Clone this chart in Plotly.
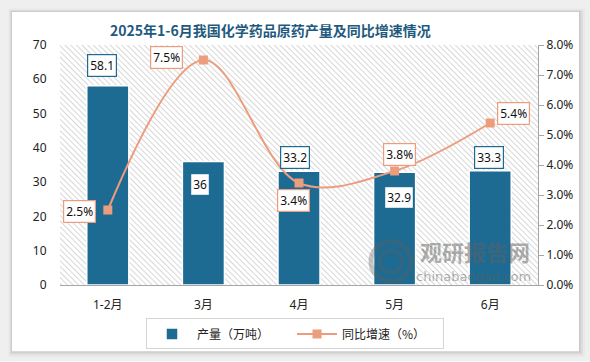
import base64
import plotly.graph_objects as go

# ---------------- data ----------------
categories = ['1-2月', '3月', '4月', '5月', '6月']
output_wt = [58.1, 36, 33.2, 32.9, 33.3]          # 产量（万吨）
growth_pct = [2.5, 7.5, 3.4, 3.8, 5.4]            # 同比增速（%）
left_ticks = [0, 10, 20, 30, 40, 50, 60, 70]
right_ticks = [0, 1, 2, 3, 4, 5, 6, 7, 8]

# label offsets (style, px)
bar_lbl_dx = [-6, -3, -4, 4, -1]
bar_lbl_dy = [20, -23, 14, -25, 13]
line_lbl_dx = [-28, -37, -6, 5, 23]
line_lbl_dy = [-1, 3, -17, 17, 10]

BAR = '#1d6b93'
LINE = '#eb9d7e'
W, H = 590, 362
L, R, T, B = 60, 538, 45, 285.5
PW, PH = R - L, B - T


def px(x):
    return (x - L) / PW


def py(y):
    return (B - y) / PH


fig = go.Figure()
fig.add_trace(go.Bar(
    x=categories, y=output_wt, name='产量（万吨）\u2003\u2002', yaxis='y',
    marker=dict(color=BAR, line=dict(color='white', width=1.5)),
    width=0.44,
))
fig.add_trace(go.Scatter(
    x=categories, y=growth_pct, name='同比增速（%）\u2003', yaxis='y2',
    mode='lines+markers', line=dict(color=LINE, width=2, shape='spline', smoothing=1.0),
    marker=dict(symbol='square', size=9, color=LINE),
))

ann = []
for i, (c, v) in enumerate(zip(categories, output_wt)):
    ann.append(dict(x=c, y=v, xref='x', yref='y', text=f'{v:g}', showarrow=False,
                    xshift=bar_lbl_dx[i], yshift=bar_lbl_dy[i],
                    bgcolor='white', bordercolor=BAR, borderwidth=1.2, borderpad=2,
                    font=dict(family='Noto Sans, Noto Sans CJK SC', size=12, color='#111')))
for i, (c, v) in enumerate(zip(categories, growth_pct)):
    ann.append(dict(x=c, y=v, xref='x', yref='y2', text=f'{v:.1f}%', showarrow=False,
                    xshift=line_lbl_dx[i], yshift=line_lbl_dy[i],
                    bgcolor='white', bordercolor=LINE, borderwidth=1.2, borderpad=2,
                    font=dict(family='Noto Sans, Noto Sans CJK SC', size=12, color='#111')))

# title
ann.append(dict(x=px(270), y=py(29.5), xref='paper', yref='paper', showarrow=False,
                xanchor='center', yanchor='middle',
                text='<b>2025年1-6月我国化学药品原药产量及同比增速情况</b>',
                font=dict(family='Noto Sans CJK SC', size=14, color='#1f5a7e')))
# watermark
WM = 'rgba(95,95,95,0.5)'
ann.append(dict(x=px(475), y=py(251), xref='paper', yref='paper', showarrow=False,
                xanchor='center', yanchor='middle', text='<b>观研报告网</b>',
                font=dict(family='Noto Sans CJK SC', size=22, color=WM)))
ann.append(dict(x=px(473), y=py(277), xref='paper', yref='paper', showarrow=False,
                xanchor='center', yanchor='middle', text='chinabaogao.com',
                font=dict(family='DejaVu Sans', size=13, color=WM)))

shapes = []
# outer grey frame + soft shadow around white card
cx0, cx1, cy0, cy1 = 12, 579, 12, 352
OUT = '#efefef'
for (x0, x1, y0, y1) in [(0, W, 0, cy0), (0, W, cy1, H), (0, cx0, 0, H), (cx1, W, 0, H)]:
    shapes.append(dict(type='rect', xref='paper', yref='paper', layer='below',
                       x0=px(x0), x1=px(x1), y0=py(y1), y1=py(y0),
                       fillcolor=OUT, line=dict(width=0)))
for k, alpha in [(6, 0.025), (4, 0.035), (2.5, 0.045), (1.2, 0.06)]:
    shapes.append(dict(type='rect', xref='paper', yref='paper', layer='below',
                       x0=px(cx0 - k * 0.6), x1=px(cx1 + k), y0=py(cy1 + k), y1=py(cy0 - k * 0.6),
                       fillcolor=f'rgba(0,0,0,{alpha})', line=dict(width=0)))
shapes.append(dict(type='rect', xref='paper', yref='paper', layer='below',
                   x0=px(cx0), x1=px(cx1), y0=py(cy1), y1=py(cy0),
                   fillcolor='white', line=dict(width=0)))
# watermark logo
for r0, wdt in [(20, 5), (11, 4)]:
    shapes.append(dict(type='circle', xref='paper', yref='paper', layer='above',
                       x0=px(391 - r0), x1=px(391 + r0), y0=py(262 + r0), y1=py(262 - r0),
                       line=dict(color='rgba(95,95,95,0.35)', width=wdt)))

# hatch pattern background of the plot area
svg = f'''<svg xmlns="http://www.w3.org/2000/svg" width="{PW}" height="{int(PH)}" viewBox="0 0 {PW} {int(PH)}" preserveAspectRatio="none">
<defs><pattern id="h" width="4" height="4" patternUnits="userSpaceOnUse" patternTransform="rotate(45)">
<line x1="0" y1="0.5" x2="4" y2="0.5" stroke="#d2d2d2" stroke-width="0.9"/></pattern></defs>
<rect width="100%" height="100%" fill="white"/><rect width="100%" height="100%" fill="url(#h)"/></svg>'''
src = 'data:image/svg+xml;base64,' + base64.b64encode(svg.encode()).decode()

fig.update_layout(
    width=W, height=H,
    margin=dict(l=L, r=W - R, t=T, b=H - B, pad=0),
    paper_bgcolor='white', plot_bgcolor='rgba(0,0,0,0)',
    showlegend=True,
    legend=dict(orientation='h', x=px(295), xanchor='center', y=py(319), yanchor='top',
                bordercolor='#d6d6d6', borderwidth=1, bgcolor='white',
                font=dict(family='Noto Sans CJK SC', size=12, color='#222'),
                itemwidth=40, tracegroupgap=0),
    xaxis=dict(type='category', showgrid=False, showline=True, linecolor='#a6a6a6', linewidth=1,
               ticks='outside', ticklen=9, tickcolor='rgba(0,0,0,0)',
               tickfont=dict(family='Noto Sans, Noto Sans CJK SC', size=12, color='#222'),
               range=[-0.5, 4.5]),
    yaxis=dict(range=[0, 70], tickvals=left_ticks, showgrid=False, showline=False, zeroline=False,
               ticks='outside', ticklen=10, tickcolor='rgba(0,0,0,0)',
               tickfont=dict(family='Noto Sans', size=12, color='#222')),
    yaxis2=dict(range=[0, 8], tickvals=right_ticks, ticktext=[f'{v:.1f}%' for v in right_ticks],
                overlaying='y', side='right', showgrid=False, zeroline=False,
                showline=True, linecolor='#a6a6a6', linewidth=1,
                ticks='outside', ticklen=5, tickcolor='#a6a6a6',
                tickfont=dict(family='Noto Sans', size=12, color='#222')),
    annotations=ann,
    shapes=shapes,
    images=[dict(source=src, xref='x', yref='y', x=-0.5, y=70, sizex=5, sizey=70,
                 xanchor='left', yanchor='top', sizing='stretch', layer='below')],
)

fig.write_html('out.html', config={'displayModeBar': False},
               post_script="document.body.style.margin='0';document.body.style.overflow='hidden';")
